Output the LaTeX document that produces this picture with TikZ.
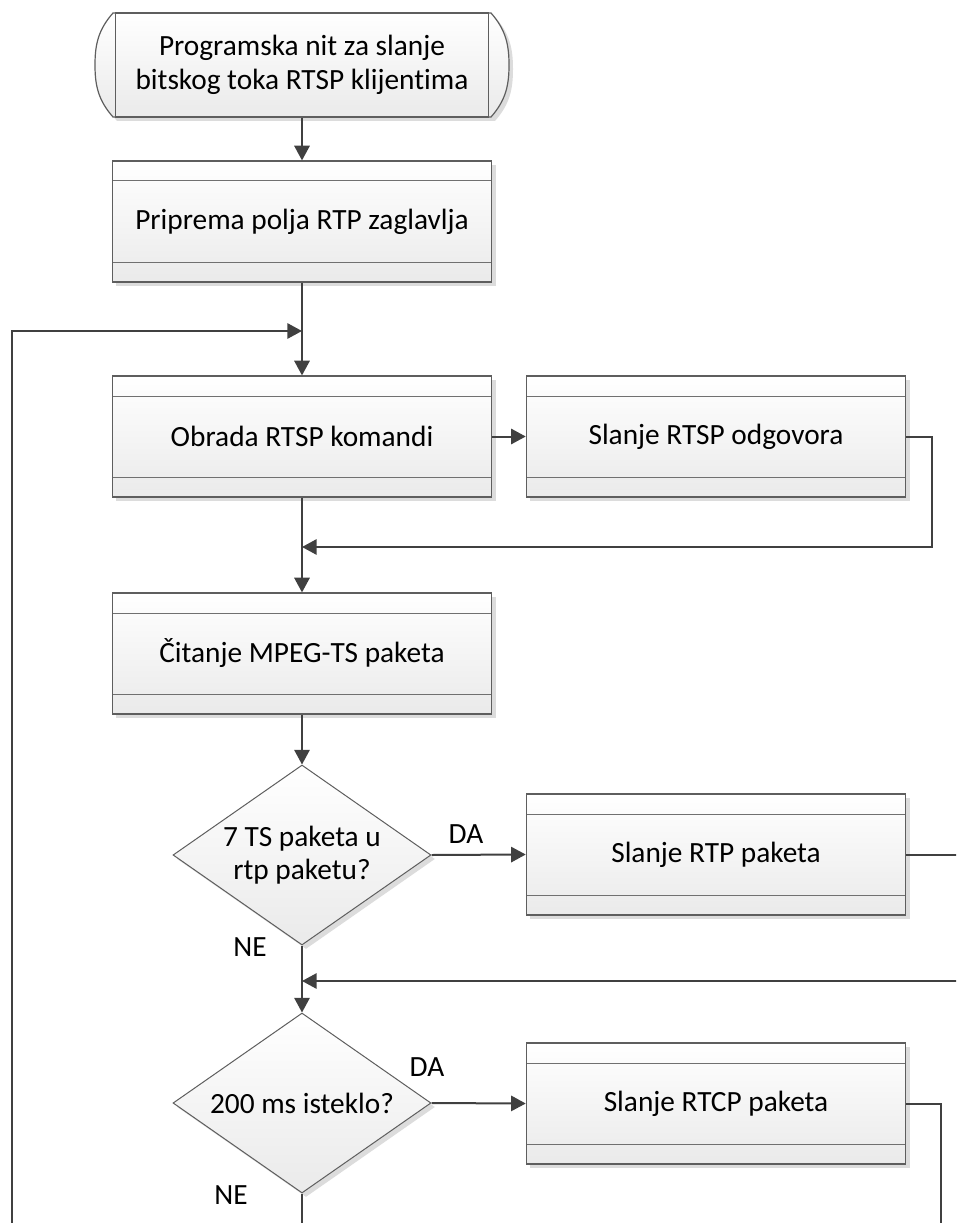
\documentclass[tikz,border=0pt]{standalone}
\usepackage{fontspec}
\setmainfont{Carlito}[RawFeature={-liga;-clig;-calt;-dlig}]
\usetikzlibrary{arrows.meta,shapes.geometric,shadows}

\definecolor{wire}{HTML}{404040}
\definecolor{edge}{HTML}{5E5E5E}
\definecolor{rulec}{HTML}{707070}
\definecolor{shadec}{HTML}{DCDCDC}
\definecolor{fillbot}{HTML}{EAEAEA}

\begin{document}
\begin{tikzpicture}[x=0.75pt,y=-0.75pt,
  every node/.style={font=\fontsize{22}{26}\selectfont, text=black},
  boxshade/.style={top color=white, bottom color=fillbot},
  softshadow/.style={drop shadow={shadow xshift=3pt, shadow yshift=-3pt, fill=shadec, opacity=1}},
  proc/.style={rectangle, draw=edge, line width=0.9pt, minimum width=284.5pt,
    minimum height=90.75pt, inner sep=0pt, boxshade, softshadow,
    path picture={\draw[rulec, line width=0.75pt]
      ([yshift=-15pt]path picture bounding box.north west) -- ([yshift=-15pt]path picture bounding box.north east)
      ([yshift=15pt]path picture bounding box.south west) -- ([yshift=15pt]path picture bounding box.south east);}},
  decision/.style={diamond, aspect=1.43, draw=edge, line width=0.75pt,
    minimum width=193.5pt, minimum height=135pt, inner sep=0pt, align=center,
    boxshade, softshadow, font=\fontsize{22}{25}\selectfont},
  termbox/.style={rectangle, draw=edge, line width=0.9pt, minimum width=279.75pt,
    minimum height=78pt, inner sep=0pt, align=center},
  lbl/.style={font=\fontsize{22}{26}\selectfont},
  wireline/.style={draw=wire, line width=1.5pt},
  tip/.style={-{Triangle[length=11pt,width=11.5pt]}}
]
\useasboundingbox (0,0) rectangle (956,1223);
\clip (0,0) rectangle (956,1223);

% start terminal: outline with curved ends, then the inner box
\path[boxshade, softshadow, draw=edge, line width=0.9pt]
  (113,13) -- (491,13) .. controls (506,30) and (509,45) .. (509,65)
  .. controls (509,85) and (506,100) .. (491,117) -- (113,117)
  .. controls (98,100) and (95,85) .. (95,65)
  .. controls (95,45) and (98,30) .. (113,13) -- cycle;
\node[termbox] (start) at (302,65) {Programska nit za slanje\\bitskog toka RTSP klijentima};

% process steps
\node[proc] (b2) at (302,221.5)  {Priprema polja RTP zaglavlja};
\node[proc] (b3) at (302,436.5)  {Obrada RTSP komandi};
\node[proc] (b4) at (716,436.5)  {Slanje RTSP odgovora};
\node[proc] (b5) at (302,653.5)  {Čitanje MPEG-TS paketa};
\node[decision] (d1) at (302,855) {7 TS paketa u\\rtp paketu?};
\node[proc] (b6) at (716,854.5)  {Slanje RTP paketa};
\node[decision] (d2) at (302,1103) {200 ms isteklo?};
\node[proc] (b7) at (716,1103.5) {Slanje RTCP paketa};

% branch labels
\node[lbl] (da1) at (466,834)  {DA};
\node[lbl] (ne1) at (250,947)  {NE};
\node[lbl] (da2) at (427,1067) {DA};
\node[lbl] (ne2) at (231,1195) {NE};

% junctions and loose ends
\coordinate (j1) at (302,331);
\coordinate (j2) at (302,547);
\coordinate (j3) at (302,981);
\coordinate (loopend) at (12,1240);
\coordinate (rtpout) at (970,854.5);
\coordinate (rtpback) at (970,981);
\coordinate (rtcpout) at (941,1240);
\coordinate (nedown) at (302,1240);

% connectors
\draw[wireline, tip] (start.south) -- (b2.north);
\draw[wireline, tip] (b2.south) -- (b3.north);
\draw[wireline, tip] (loopend) |- (j1);
\draw[wireline, tip] (b3.east) -- (b4.west);
\draw[wireline, tip] (b4.east) -- ++(26,0) |- (j2);
\draw[wireline, tip] (b3.south) -- (b5.north);
\draw[wireline, tip] (b5.south) -- (d1.north);
\draw[wireline, tip] (d1.east) -- (b6.west);
\draw[wireline] (b6.east) -- (rtpout);
\draw[wireline, tip] (rtpback) -- (j3);
\draw[wireline, tip] (d1.south) -- (d2.north);
\draw[wireline, tip] (d2.east) -- (b7.west);
\draw[wireline] (b7.east) -| (rtcpout);
\draw[wireline] (d2.south) -- (nedown);
\end{tikzpicture}
\end{document}
